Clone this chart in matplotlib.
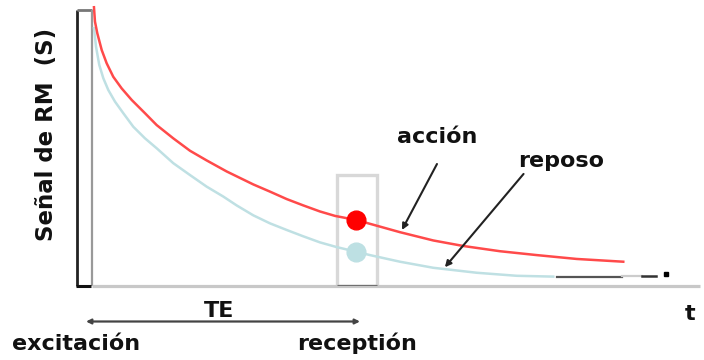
import matplotlib
matplotlib.use("Agg")
import matplotlib.pyplot as plt
from matplotlib.patches import Rectangle

# signal decay after excitation (time in ms, signal normalised)
t_accion = [0.3, 0.45, 0.8, 1.47, 2.22, 3.22, 4.49, 6.01, 8.02, 9.79, 12.3, 14.83,
            17.35, 20.38, 24.41, 26.93, 29.46, 31.97, 34.5, 36.77, 40,
            42.56, 46.6, 51.64, 56.18, 61.73, 67.29, 73.34, 80.39]
s_accion = [1.01, 0.958, 0.916, 0.855, 0.807, 0.758, 0.716, 0.674, 0.626, 0.583, 0.535, 0.49,
            0.455, 0.415, 0.368, 0.342, 0.315, 0.292, 0.27, 0.254, 0.239,
            0.222, 0.195, 0.165, 0.145, 0.126, 0.112, 0.098, 0.088]
t_reposo = [0.3, 0.61, 1.1, 1.71, 2.47, 3.48, 4.74, 6.25, 8.02, 9.79, 12.3, 14.83,
            17.35, 19.87, 21.89, 24.41, 26.93, 29.46, 31.97, 34.5, 37.03, 40,
            42.06, 46.6, 51.64, 58.21, 64.26, 69.8]
s_reposo = [0.934, 0.867, 0.801, 0.753, 0.71, 0.668, 0.626, 0.577, 0.535, 0.499, 0.445, 0.402,
            0.36, 0.324, 0.292, 0.256, 0.227, 0.203, 0.18, 0.158, 0.141, 0.124,
            0.112, 0.088, 0.066, 0.048, 0.037, 0.034]
t_cola = [70.3, 80.15]
s_cola = [0.034, 0.034]
TE = 40

W, H = 704, 360
fig = plt.figure(figsize=(W / 100, H / 100), dpi=100)
fig.patch.set_facecolor("white")

def px(x, y):
    return x / W, 1 - y / H

ax = fig.add_axes([76 / W, 74 / H, 624 / W, 276 / H])
ax.set_xlim(-2.42, 92)
ax.set_ylim(0, 1)
ax.axis("off")

# excitation pulse
ax.plot([-2.3, -2.3], [0, 1], color="#222222", lw=2, solid_capstyle="butt", clip_on=False)
ax.plot([-2.3, 0], [1, 1], color="#777777", lw=2, solid_capstyle="butt", clip_on=False)
ax.plot([0, 0], [0, 1], color="#999999", lw=1.6, solid_capstyle="butt", clip_on=False)
ax.plot([-2.4, -0.2], [0, 0], color="#111111", lw=2.2, solid_capstyle="butt", clip_on=False)

# time axis
ax.plot([0, 92], [0, 0], color="#c8c8c8", lw=2.3, solid_capstyle="butt", clip_on=False)

# curves
ax.plot(t_reposo, s_reposo, color="#bfe0e3", lw=1.8, clip_on=False)
ax.plot(t_accion, s_accion, color="#ff4a4a", lw=1.8, clip_on=False)
ax.plot(t_cola, s_cola, color="#555555", lw=1.6)
ax.plot([80.15, 83.2], [0.036, 0.036], color="#cccccc", lw=1.6)
ax.plot([83.2, 85.3], [0.038, 0.038], color="#333333", lw=1.8)
ax.plot([86.8], [0.045], "s", color="black", ms=2.5)

# readout window at TE
ax.add_patch(Rectangle((37.1, 0), 6.0, 0.402, fill=False, edgecolor="#d8d8d8", lw=2.4))
ax.plot([37.1, 43.1], [0, 0], color="#707070", lw=2.3, solid_capstyle="butt")
ax.plot([TE], [s_accion[t_accion.index(TE)]], "o", color="#ff0000", ms=13.5)
ax.plot([TE], [s_reposo[t_reposo.index(TE)]], "o", color="#bde0e3", ms=13.5)

# labels with arrows
bold = dict(family="DejaVu Sans", weight="bold", color="#111111")
ax.annotate("", xy=(46.9, 0.203), xytext=(52.2, 0.442),
            arrowprops=dict(arrowstyle="-|>", color="#222222", lw=1.5,
                            mutation_scale=9, shrinkA=0, shrinkB=0))
ax.annotate("", xy=(53.4, 0.068), xytext=(65.3, 0.406),
            arrowprops=dict(arrowstyle="-|>", color="#222222", lw=1.5,
                            mutation_scale=9, shrinkA=0, shrinkB=0))
fig.text(*px(397, 143), "acción", fontsize=16, ha="left", va="baseline", **bold)
fig.text(*px(518, 167), "reposo", fontsize=16, ha="left", va="baseline", **bold)

fig.text(*px(47, 134), "Señal de RM  (S)", fontsize=16.5, rotation=90,
         ha="center", va="center", **bold)

# TE span
ax_te = fig.add_axes([0, 0, 1, 1])
ax_te.set_xlim(0, W)
ax_te.set_ylim(H, 0)
ax_te.axis("off")
ax_te.annotate("", xy=(86, 321.5), xytext=(360, 321.5),
               arrowprops=dict(arrowstyle="<|-|>", color="#444444", lw=1.6,
                               mutation_scale=7, shrinkA=0, shrinkB=0))
fig.text(*px(219, 317), "TE", fontsize=16, ha="center", va="baseline", **bold)
fig.text(*px(690, 320), "t", fontsize=16, ha="center", va="baseline", **bold)
fig.text(*px(12, 350), "excitación", fontsize=16, ha="left", va="baseline", **bold)
fig.text(*px(297, 350), "receptión", fontsize=16, ha="left", va="baseline", **bold)

fig.savefig("out.png", dpi=100, facecolor="white")
